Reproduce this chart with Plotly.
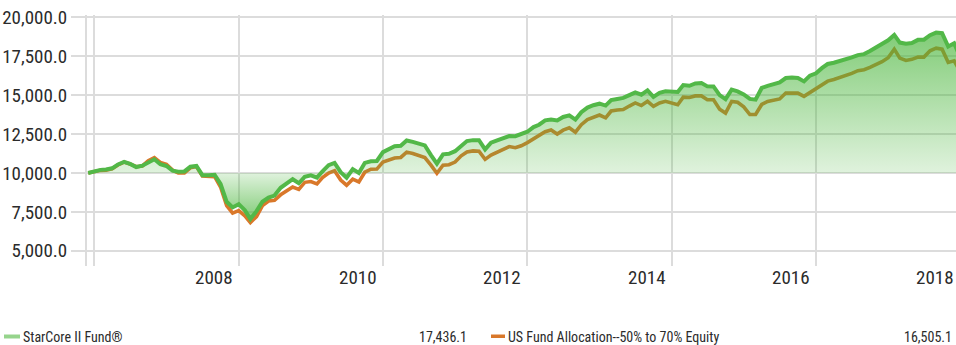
import pandas as pd
import plotly.graph_objects as go

# Growth of 10,000 — month-end values, Nov 2006 through Dec 2018
try:
    dates = pd.date_range("2006-11-30", periods=146, freq="ME")
except ValueError:
    dates = pd.date_range("2006-11-30", periods=146, freq="M")

starcore = [
    10000, 10120, 10200, 10220, 10300, 10550, 10720, 10580, 10380, 10470, 10700, 10880,
    10560, 10450, 10150, 10080, 10100, 10400, 10450, 9860, 9850, 9880, 9300, 8150,
    7790, 8000, 7600, 7040, 7550, 8150, 8420, 8550, 9050, 9350, 9600, 9340,
    9750, 9850, 9700, 10100, 10500, 10650, 10050, 9700, 10250, 10000, 10650, 10750,
    10770, 11340, 11550, 11720, 11750, 12090, 12000, 11900, 11770, 11150, 10600, 11200,
    11230, 11400, 11727, 12050, 12110, 12110, 11515, 11943, 12100, 12250, 12370, 12366,
    12500, 12650, 12950, 13100, 13380, 13430, 13380, 13600, 13700, 13430, 13900, 14200,
    14350, 14450, 14330, 14680, 14750, 14820, 15000, 15180, 15030, 15307, 14885, 15150,
    15243, 15243, 15200, 15650, 15600, 15750, 15780, 15563, 15560, 15000, 14740, 15350,
    15243, 15050, 14757, 14710, 15460, 15600, 15700, 15820, 16100, 16140, 16100, 15883,
    16250, 16400, 16750, 17000, 17080, 17180, 17300, 17420, 17570, 17634, 17830, 18080,
    18300, 18520, 18868, 18376, 18300, 18350, 18550, 18560, 18850, 19015, 18977, 18120,
    18330, 17436.1,
]

allocation = [
    10000, 10080, 10170, 10180, 10270, 10520, 10700, 10580, 10400, 10450, 10780, 10980,
    10680, 10550, 10180, 10000, 10000, 10330, 10420, 9800, 9760, 9760, 9100, 7900,
    7420, 7580, 7250, 6820, 7200, 7900, 8200, 8250, 8600, 8850, 9100, 8950,
    9400, 9450, 9300, 9700, 10000, 10150, 9550, 9215, 9600, 9425, 10050, 10240,
    10250, 10700, 10850, 10960, 11000, 11340, 11250, 11100, 10985, 10500, 9980, 10500,
    10530, 10700, 11100, 11350, 11420, 11400, 10876, 11150, 11350, 11550, 11700, 11620,
    11750, 11950, 12180, 12400, 12650, 12760, 12500, 12750, 12900, 12620, 13100, 13430,
    13600, 13720, 13540, 13980, 14050, 14073, 14300, 14500, 14330, 14600, 14284, 14500,
    14600, 14480, 14380, 14870, 14850, 14950, 14950, 14710, 14700, 14100, 13850, 14600,
    14540, 14250, 13753, 13753, 14400, 14600, 14680, 14757, 15140, 15150, 15130, 14923,
    15150, 15400, 15650, 15900, 16000, 16120, 16250, 16400, 16570, 16630, 16780, 16960,
    17150, 17400, 17954, 17380, 17225, 17300, 17443, 17443, 17850, 18020, 17954, 17100,
    17200, 16505.1,
]

series_names = ["StarCore II Fund®", "US Fund Allocation--50% to 70% Equity"]
baseline_value = 10000.0

y_ticks = [5000, 7500, 10000, 12500, 15000, 17500, 20000]
y_ticktext = [f"{v:,.1f}" for v in y_ticks]

grid_years = [2006, 2008, 2010, 2012, 2014, 2016, 2018]
label_years = [2008, 2010, 2012, 2014, 2016, 2018]

FONT = "Liberation Sans Narrow, Roboto Condensed, Arial Narrow, DejaVu Sans Condensed, sans-serif"
TEXT = "#2b2b2b"
GRID = "#dcdcdc"
GREEN = "#52b848"
ORANGE = "#d9782a"

W, H = 956, 345
M_L, M_R, M_T, M_B = 87, 0, 15, 79
PLOT_W = W - M_L - M_R
PLOT_H = H - M_T - M_B

x_range = [pd.Timestamp("2006-11-24"), pd.Timestamp("2018-12-09 10:00")]
y_range = [4026, 20147]


def px_x(px):
    return (px - M_L) / PLOT_W


def px_y(py):
    return (H - M_B - py) / PLOT_H


lo, hi = min(starcore), max(starcore)
mid = (baseline_value - lo) / (hi - lo)
dark = "rgba(70,180,55,0.68)"
light = "rgba(70,180,55,0.17)"

fig = go.Figure()

fig.add_trace(go.Scatter(
    x=dates, y=allocation, mode="lines",
    line=dict(color=ORANGE, width=3.6), hoverinfo="skip",
))
fig.add_trace(go.Scatter(
    x=dates, y=[baseline_value] * len(dates), mode="lines",
    line=dict(width=0, color="rgba(0,0,0,0)"), hoverinfo="skip",
))
fig.add_trace(go.Scatter(
    x=dates, y=starcore, mode="lines", fill="tonexty",
    fillgradient=dict(type="vertical", start=lo, stop=hi,
                      colorscale=[[0, dark], [mid, light], [1, dark]]),
    line=dict(color=GREEN, width=4), hoverinfo="skip",
))

# Year labels sit just left of their year-end gridline
span = (x_range[1] - x_range[0]).total_seconds()
annotations = []
for yr in label_years:
    t = pd.Timestamp(f"{yr}-12-31")
    frac = (t - x_range[0]).total_seconds() / span
    annotations.append(dict(
        x=frac, y=0, xref="paper", yref="paper", text=str(yr),
        xanchor="right", yanchor="top", xshift=-4, yshift=2, showarrow=False,
        font=dict(family=FONT, size=19, color=TEXT),
    ))

# Legend rows with final values
legend_y = px_y(337)
annotations += [
    dict(x=px_x(21), y=legend_y, xref="paper", yref="paper", text=series_names[0],
         xanchor="left", yanchor="middle", showarrow=False,
         font=dict(family=FONT, size=14, color=TEXT)),
    dict(x=px_x(469), y=legend_y, xref="paper", yref="paper", text=f"{starcore[-1]:,.1f}",
         xanchor="right", yanchor="middle", showarrow=False,
         font=dict(family=FONT, size=14, color=TEXT)),
    dict(x=px_x(506), y=legend_y, xref="paper", yref="paper", text=series_names[1],
         xanchor="left", yanchor="middle", showarrow=False,
         font=dict(family=FONT, size=14, color=TEXT)),
    dict(x=px_x(954), y=legend_y, xref="paper", yref="paper", text=f"{allocation[-1]:,.1f}",
         xanchor="right", yanchor="middle", showarrow=False,
         font=dict(family=FONT, size=14, color=TEXT)),
]

shapes = [
    dict(type="rect", xref="paper", yref="paper",
         x0=px_x(4), x1=px_x(20), y0=px_y(338.5), y1=px_y(334.5),
         fillcolor="rgb(150,212,140)", line=dict(width=0)),
    dict(type="rect", xref="paper", yref="paper",
         x0=px_x(491), x1=px_x(505), y0=px_y(338), y1=px_y(334.5),
         fillcolor=ORANGE, line=dict(width=0)),
]

fig.update_layout(
    width=W, height=H,
    margin=dict(l=M_L, r=M_R, t=M_T, b=M_B, pad=0),
    paper_bgcolor="white", plot_bgcolor="white",
    showlegend=False,
    annotations=annotations, shapes=shapes,
    xaxis=dict(
        range=x_range, type="date",
        tickvals=[pd.Timestamp(f"{y}-12-31") for y in grid_years],
        showticklabels=False, ticks="",
        showgrid=True, gridcolor=GRID, gridwidth=2,
        showline=False, zeroline=False, fixedrange=True,
    ),
    yaxis=dict(
        range=y_range, tickvals=y_ticks, ticktext=y_ticktext,
        ticks="outside", ticklen=14, tickwidth=2, tickcolor=GRID,
        showgrid=True, gridcolor=GRID, gridwidth=2,
        showline=True, linecolor=GRID, linewidth=2,
        zeroline=False, fixedrange=True,
        tickfont=dict(family=FONT, size=19, color=TEXT),
    ),
)

fig.write_html("out.html")
